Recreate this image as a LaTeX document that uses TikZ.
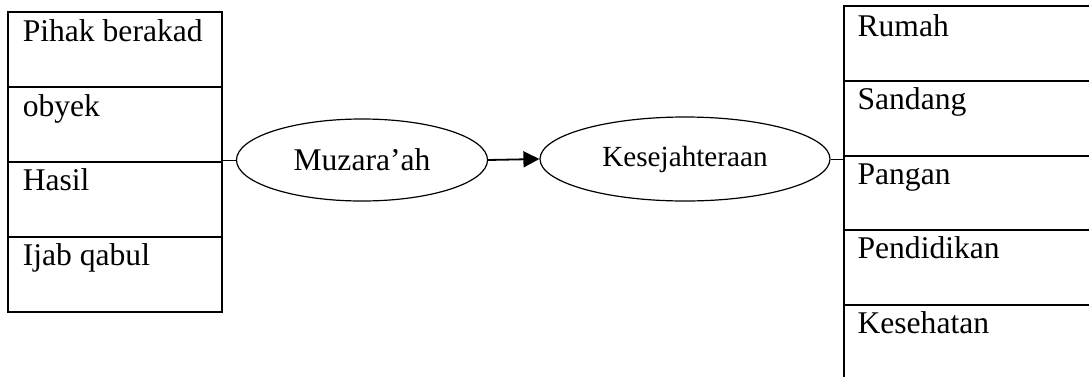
\documentclass[tikz,border=0pt]{standalone}
\usepackage{fontspec}
\setmainfont{Liberation Serif}
\usetikzlibrary{arrows.meta,calc,shapes.geometric}
\begin{document}
\begin{tikzpicture}[x=0.5pt,y=-0.5pt,
  cell/.style={draw,line width=0.85pt,inner sep=0pt,minimum height=37.5pt},
  lcell/.style={cell,minimum width=107.25pt},
  rcell/.style={cell,minimum width=128pt},
  txt/.style={anchor=base west,inner sep=0pt,font=\fontsize{15.8pt}{18pt}\selectfont},
  oval/.style={draw,ellipse,line width=0.6pt,inner sep=0pt},
  conn/.style={line width=0.45pt},
  arrowline/.style={line width=0.9pt,-{Triangle[length=8pt,width=8pt]}}
]
\useasboundingbox (0,0) rectangle (1089,376);
\clip (0,0) rectangle (1089,376);

% left column: elements of the contract
\node[lcell] (l1) at (115,49.5) {};
\node[lcell] (l2) at (115,124.5) {};
\node[lcell] (l3) at (115,199.5) {};
\node[lcell] (l4) at (115,274.5) {};
\node[txt] (t1) at ($(l1.north west)+(15.5,30)$) {Pihak berakad};
\node[txt] (t2) at ($(l2.north west)+(15.5,30)$) {obyek};
\node[txt] (t3) at ($(l3.north west)+(15.5,29)$) {Hasil};
\node[txt] (t4) at ($(l4.north west)+(15.5,29)$) {Ijab qabul};

% middle: the two ovals
\node[oval,minimum width=125.5pt,minimum height=41pt,
      font=\fontsize{15.8pt}{18pt}\selectfont] (muz) at (362,160) {Muzara’ah};
\node[oval,minimum width=145pt,minimum height=42pt,
      font=\fontsize{14.6pt}{17pt}\selectfont] (kes) at (685,159) {Kesejahteraan};

% right column: aspects of welfare (runs past the page edge)
\node[rcell] (r1) at (972,43.5) {};
\node[rcell] (r2) at (972,118.25) {};
\node[rcell] (r3) at (972,193) {};
\node[rcell] (r4) at (972,267.75) {};
\node[rcell] (r5) at (972,342.5) {};
\node[txt] (s1) at ($(r1.north west)+(14,31)$) {Rumah};
\node[txt] (s2) at ($(r2.north west)+(14,30)$) {Sandang};
\node[txt] (s3) at ($(r3.north west)+(14,30)$) {Pangan};
\node[txt] (s4) at ($(r4.north west)+(14,29)$) {Pendidikan};
\node[txt] (s5) at ($(r5.north west)+(14,29)$) {Kesehatan};

% connectors
\draw[conn] (muz.west -| l2.east) -- (muz.west);
\draw[arrowline] (muz.east) -- (kes.west);
\draw[conn] (kes.east) -- (kes.east -| r1.west);
\end{tikzpicture}
\end{document}
